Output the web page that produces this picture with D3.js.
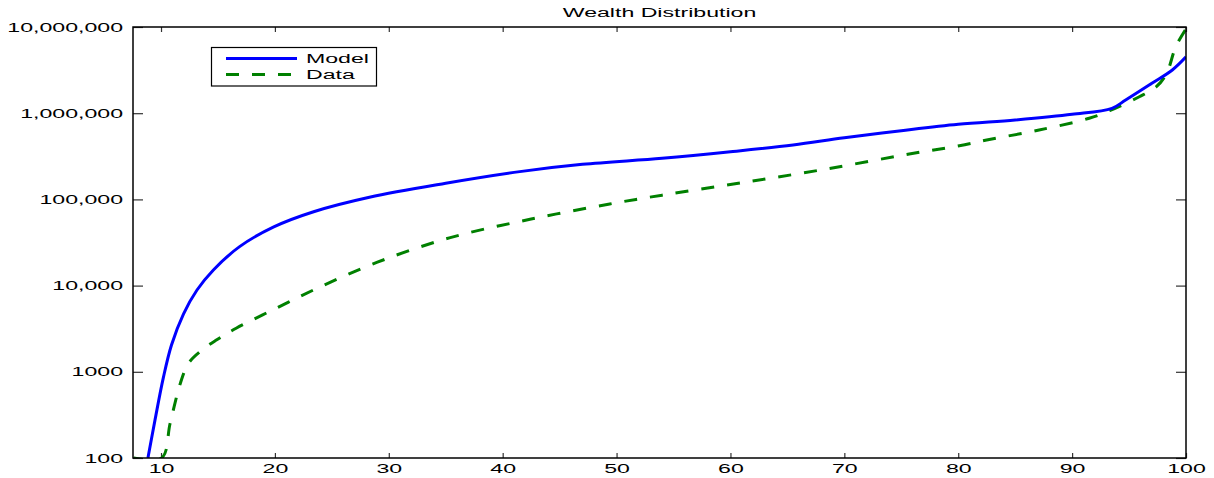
<!DOCTYPE html>
<html>
<head>
<meta charset="utf-8">
<script src="https://cdn.jsdelivr.net/npm/d3@7"></script>
<style>
  body { margin: 0; background: #fff; }
  text { font-family: "Liberation Sans", Arial, Helvetica, sans-serif; font-size: 12.5px; fill: #000; }
</style>
</head>
<body>
<div id="chart"></div>
<script>
// Chart data (percentile vs wealth)
var modelPct = [8.85, 9.47, 10.2, 10.92, 11.97, 13.16, 14.6, 16.9, 19.9, 23.4, 28.3, 35, 41.5, 47, 54, 60, 65.5, 70, 75, 80, 85, 90, 93.5, 94.7, 97, 98.8, 100];
var modelVal = [100, 275, 850, 2050, 4680, 8890, 15200, 28300, 48000, 72000, 106000, 154000, 210000, 255000, 300000, 357000, 428000, 520000, 627000, 743000, 834000, 970000, 1140000, 1420000, 2220000, 3170000, 4500000];

var dataPct = [7.6, 10.06, 10.8, 11.7, 12.4, 13.6, 14.9, 16.6, 20.1, 23.7, 29, 35.4, 42.4, 49.4, 54, 61, 68.4, 75.7, 80.1, 82.5, 87.1, 91.5, 93.3, 95.9, 97.4, 98.3, 99.1, 100];
var dataVal = [100, 100, 253, 736, 1250, 1790, 2350, 3200, 5460, 9300, 18700, 36000, 58800, 88500, 112000, 156000, 225000, 336000, 420000, 489000, 638000, 873000, 1070000, 1550000, 2030000, 2900000, 5900000, 9500000];

var xTicks = [10, 20, 30, 40, 50, 60, 70, 80, 90, 100];
var yTicks = [100, 1000, 10000, 100000, 1000000, 10000000];
var yTickLabels = ["100", "1000", "10,000", "100,000", "1,000,000", "10,000,000"];
var seriesNames = ["Model", "Data"];
var chartTitle = "Wealth Distribution";

// Layout
var svgWidth = 1214;
var svgHeight = 478;
var plot = { left: 133, right: 1186, top: 27, bottom: 458 };
var sx = 1.85; // text is drawn wide like the original

var svg = d3.select("#chart")
  .append("svg")
  .attr("width", svgWidth)
  .attr("height", svgHeight);

// Scales
var xScale = d3.scaleLinear()
  .domain([7.54, 100])
  .range([plot.left, plot.right]);

var yScale = d3.scaleLog()
  .domain([100, 10000000])
  .range([plot.bottom, plot.top])
  .clamp(true);

svg.append("clipPath")
  .attr("id", "clip")
  .append("rect")
  .attr("x", plot.left)
  .attr("y", plot.top)
  .attr("width", plot.right - plot.left)
  .attr("height", plot.bottom - plot.top);

// Axes (ticks pointing inside)
var bottomAxis = d3.axisBottom(xScale).tickValues(xTicks).tickSizeInner(-5).tickSizeOuter(0);
var topAxis = d3.axisTop(xScale).tickValues(xTicks).tickSizeInner(-5).tickSizeOuter(0).tickFormat("");
var leftAxis = d3.axisLeft(yScale).tickValues(yTicks).tickSizeInner(-10).tickSizeOuter(0)
  .tickFormat(function(d, i) { return yTickLabels[i]; });
var rightAxis = d3.axisRight(yScale).tickValues(yTicks).tickSizeInner(-10).tickSizeOuter(0).tickFormat("");

var gx = svg.append("g")
  .attr("transform", `translate(0, ${plot.bottom})`)
  .call(bottomAxis);
gx.selectAll("text")
  .attr("y", 6.5)
  .attr("transform", `scale(${sx},1)`);

svg.append("g")
  .attr("transform", `translate(0, ${plot.top})`)
  .call(topAxis);

var gy = svg.append("g")
  .attr("transform", `translate(${plot.left}, 0)`)
  .call(leftAxis);
gy.selectAll("text")
  .attr("x", -10 / sx)
  .attr("transform", `scale(${sx},1)`);

svg.append("g")
  .attr("transform", `translate(${plot.right}, 0)`)
  .call(rightAxis);

svg.selectAll(".domain").remove();
svg.selectAll(".tick line").attr("stroke", "#333").attr("stroke-width", 1.2);
svg.selectAll(".tick text").style("font-family", "'Liberation Sans', Arial, sans-serif").style("font-size", "12.5px").attr("fill", "#000");

// Lines
var modelLine = d3.line()
  .x(function(d, i) { return xScale(modelPct[i]); })
  .y(function(d) { return yScale(d); })
  .curve(d3.curveCatmullRom.alpha(0.5));

var dataLine = d3.line()
  .x(function(d, i) { return xScale(dataPct[i]); })
  .y(function(d) { return yScale(d); })
  .curve(d3.curveCatmullRom.alpha(0.5));

var lines = svg.append("g").attr("clip-path", "url(#clip)");

lines.append("path")
  .attr("d", dataLine(dataVal))
  .attr("fill", "none")
  .attr("stroke", "#008000")
  .attr("stroke-width", 3)
  .attr("stroke-dasharray", "13,13");

lines.append("path")
  .attr("d", modelLine(modelVal))
  .attr("fill", "none")
  .attr("stroke", "#0000ff")
  .attr("stroke-width", 3);

// Frame
svg.append("rect")
  .attr("x", plot.left)
  .attr("y", plot.top)
  .attr("width", plot.right - plot.left)
  .attr("height", plot.bottom - plot.top)
  .attr("fill", "none")
  .attr("stroke", "#000")
  .attr("stroke-width", 1.5);

// Title
svg.append("text")
  .attr("transform", `translate(${(plot.left + plot.right) / 2}, 17) scale(${sx},1)`)
  .attr("text-anchor", "middle")
  .text(chartTitle);

// Legend
var legend = svg.append("g");
legend.append("rect")
  .attr("x", 211.5).attr("y", 47.5)
  .attr("width", 165).attr("height", 38.5)
  .attr("fill", "#fff").attr("stroke", "#000").attr("stroke-width", 1.2);

var legendColors = ["#0000ff", "#008000"];
var legendDash = [null, "13,13"];
seriesNames.forEach(function(name, i) {
  var ly = 58.5 + i * 16;
  legend.append("line")
    .attr("x1", 226).attr("x2", 297)
    .attr("y1", ly).attr("y2", ly)
    .attr("stroke", legendColors[i])
    .attr("stroke-width", 3)
    .attr("stroke-dasharray", legendDash[i]);
  legend.append("text")
    .attr("transform", `translate(306, ${ly + 4.5}) scale(${sx},1)`)
    .text(name);
});
</script>
</body>
</html>
